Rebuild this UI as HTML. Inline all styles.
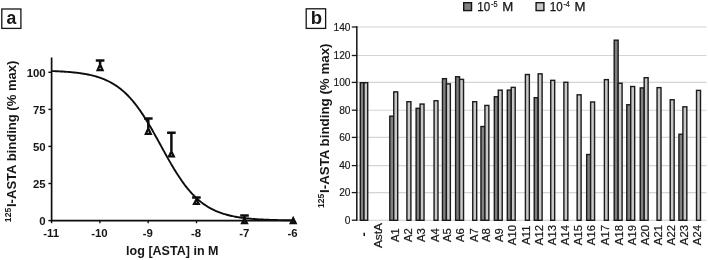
<!DOCTYPE html>
<html><head><meta charset="utf-8"><title>Figure</title>
<style>html,body{margin:0;padding:0;background:#fff}svg{display:block}text{font-family:"Liberation Sans",sans-serif;fill:#151515}</style></head>
<body>
<svg width="708" height="260" viewBox="0 0 708 260">
<defs><filter id="soft" x="0" y="0" width="708" height="260" filterUnits="userSpaceOnUse"><feGaussianBlur stdDeviation="0.4"/></filter></defs>
<rect x="0" y="0" width="708" height="260" fill="#fff"/>
<g filter="url(#soft)">
<rect x="1.8" y="9.0" width="19.1" height="19.4" fill="#fff" stroke="#151515" stroke-width="1.3"/>
<text x="11.3" y="24.0" font-size="17.6" font-weight="bold" text-anchor="middle">a</text>
<rect x="306.2" y="8.8" width="19.4" height="19.6" fill="#fff" stroke="#151515" stroke-width="1.3"/>
<text x="316.4" y="24.3" font-size="18.5" font-weight="bold" text-anchor="middle">b</text>
<path d="M51.6 57.5V220.6H293.6" fill="none" stroke="#0c0c0c" stroke-width="1.65"/>
<path d="M48.4 220.6H51.6" stroke="#0c0c0c" stroke-width="1.4"/>
<text x="45.7" y="225.0" font-size="11.4" font-weight="bold" text-anchor="end">0</text>
<path d="M48.4 183.5H51.6" stroke="#0c0c0c" stroke-width="1.4"/>
<text x="45.7" y="187.9" font-size="11.4" font-weight="bold" text-anchor="end">25</text>
<path d="M48.4 146.4H51.6" stroke="#0c0c0c" stroke-width="1.4"/>
<text x="45.7" y="150.8" font-size="11.4" font-weight="bold" text-anchor="end">50</text>
<path d="M48.4 109.4H51.6" stroke="#0c0c0c" stroke-width="1.4"/>
<text x="45.7" y="113.8" font-size="11.4" font-weight="bold" text-anchor="end">75</text>
<path d="M48.4 72.3H51.6" stroke="#0c0c0c" stroke-width="1.4"/>
<text x="45.7" y="76.7" font-size="11.4" font-weight="bold" text-anchor="end">100</text>
<path d="M51.6 220.6V223.2" stroke="#0c0c0c" stroke-width="1.4"/>
<text x="51.1" y="237.3" font-size="11.4" font-weight="bold" text-anchor="middle">-11</text>
<path d="M99.9 220.6V223.2" stroke="#0c0c0c" stroke-width="1.4"/>
<text x="99.4" y="237.3" font-size="11.4" font-weight="bold" text-anchor="middle">-10</text>
<path d="M148.2 220.6V223.2" stroke="#0c0c0c" stroke-width="1.4"/>
<text x="147.7" y="237.3" font-size="11.4" font-weight="bold" text-anchor="middle">-9</text>
<path d="M196.5 220.6V223.2" stroke="#0c0c0c" stroke-width="1.4"/>
<text x="196.0" y="237.3" font-size="11.4" font-weight="bold" text-anchor="middle">-8</text>
<path d="M244.8 220.6V223.2" stroke="#0c0c0c" stroke-width="1.4"/>
<text x="244.3" y="237.3" font-size="11.4" font-weight="bold" text-anchor="middle">-7</text>
<path d="M293.1 220.6V223.2" stroke="#0c0c0c" stroke-width="1.4"/>
<text x="292.6" y="237.3" font-size="11.4" font-weight="bold" text-anchor="middle">-6</text>
<text x="126.1" y="255.4" font-size="12.5" font-weight="bold" textLength="92.4" lengthAdjust="spacingAndGlyphs">log [ASTA] in M</text>
<text transform="translate(11.2 222.2) rotate(-90)" font-size="9.2" font-weight="bold" textLength="14.6" lengthAdjust="spacingAndGlyphs">125</text>
<text transform="translate(16.4 207.0) rotate(-90)" font-size="13.6" font-weight="bold" textLength="146.4" lengthAdjust="spacingAndGlyphs">I-ASTA binding (% max)</text>
<path d="M51.60 71.04L52.61 71.08L53.61 71.11L54.62 71.16L55.63 71.20L56.63 71.24L57.64 71.29L58.64 71.34L59.65 71.39L60.66 71.45L61.66 71.50L62.67 71.56L63.67 71.63L64.68 71.69L65.69 71.76L66.69 71.83L67.70 71.91L68.71 71.99L69.71 72.07L70.72 72.16L71.72 72.25L72.73 72.35L73.74 72.45L74.74 72.56L75.75 72.67L76.76 72.79L77.76 72.91L78.77 73.04L79.78 73.17L80.78 73.31L81.79 73.46L82.79 73.62L83.80 73.78L84.81 73.95L85.81 74.13L86.82 74.31L87.82 74.51L88.83 74.71L89.84 74.93L90.84 75.15L91.85 75.39L92.86 75.64L93.86 75.89L94.87 76.16L95.87 76.44L96.88 76.74L97.89 77.05L98.89 77.37L99.90 77.71L100.91 78.06L101.91 78.43L102.92 78.81L103.93 79.21L104.93 79.63L105.94 80.07L106.94 80.53L107.95 81.01L108.96 81.50L109.96 82.02L110.97 82.56L111.97 83.12L112.98 83.71L113.99 84.32L114.99 84.95L116.00 85.61L117.01 86.30L118.01 87.01L119.02 87.75L120.02 88.52L121.03 89.32L122.04 90.15L123.04 91.01L124.05 91.90L125.06 92.82L126.06 93.77L127.07 94.75L128.08 95.77L129.08 96.82L130.09 97.91L131.09 99.03L132.10 100.18L133.11 101.37L134.11 102.60L135.12 103.86L136.12 105.15L137.13 106.47L138.14 107.84L139.14 109.23L140.15 110.66L141.16 112.12L142.16 113.61L143.17 115.14L144.17 116.69L145.18 118.27L146.19 119.89L147.19 121.53L148.20 123.19L149.21 124.88L150.21 126.59L151.22 128.33L152.23 130.08L153.23 131.85L154.24 133.63L155.24 135.43L156.25 137.25L157.26 139.07L158.26 140.89L159.27 142.73L160.28 144.57L161.28 146.40L162.29 148.24L163.29 150.08L164.30 151.90L165.31 153.73L166.31 155.54L167.32 157.34L168.32 159.12L169.33 160.89L170.34 162.64L171.34 164.37L172.35 166.09L173.36 167.77L174.36 169.44L175.37 171.08L176.38 172.69L177.38 174.27L178.39 175.82L179.39 177.35L180.40 178.84L181.41 180.30L182.41 181.72L183.42 183.12L184.42 184.48L185.43 185.80L186.44 187.09L187.44 188.35L188.45 189.57L189.46 190.76L190.46 191.91L191.47 193.03L192.47 194.12L193.48 195.17L194.49 196.18L195.49 197.17L196.50 198.12L197.51 199.04L198.51 199.93L199.52 200.78L200.53 201.61L201.53 202.41L202.54 203.18L203.54 203.92L204.55 204.63L205.56 205.31L206.56 205.97L207.57 206.61L208.57 207.21L209.58 207.80L210.59 208.36L211.59 208.90L212.60 209.42L213.61 209.91L214.61 210.39L215.62 210.84L216.62 211.28L217.63 211.70L218.64 212.10L219.64 212.48L220.65 212.85L221.66 213.20L222.66 213.54L223.67 213.86L224.68 214.17L225.68 214.46L226.69 214.75L227.69 215.02L228.70 215.27L229.71 215.52L230.71 215.75L231.72 215.98L232.72 216.19L233.73 216.40L234.74 216.59L235.74 216.78L236.75 216.96L237.76 217.13L238.76 217.29L239.77 217.44L240.77 217.59L241.78 217.73L242.79 217.87L243.79 217.99L244.80 218.12L245.81 218.23L246.81 218.35L247.82 218.45L248.82 218.55L249.83 218.65L250.84 218.74L251.84 218.83L252.85 218.91L253.86 218.99L254.86 219.07L255.87 219.14L256.88 219.21L257.88 219.28L258.89 219.34L259.89 219.40L260.90 219.45L261.91 219.51L262.91 219.56L263.92 219.61L264.93 219.66L265.93 219.70L266.94 219.74L267.94 219.79L268.95 219.82L269.96 219.86L270.96 219.90L271.97 219.93L272.97 219.96L273.98 219.99L274.99 220.02L275.99 220.05L277.00 220.07L278.01 220.10L279.01 220.12L280.02 220.15L281.02 220.17L282.03 220.19L283.04 220.21L284.04 220.23L285.05 220.24L286.06 220.26L287.06 220.28L288.07 220.29L289.07 220.31L290.08 220.32L291.09 220.33L292.09 220.35L293.10 220.36" fill="none" stroke="#0c0c0c" stroke-width="1.9"/>
<path d="M95.8 60.4H104.4M100.1 60.4V63.9" fill="none" stroke="#0c0c0c" stroke-width="2.5"/>
<path d="M100.10 64.46L102.62 70.22H97.58Z" fill="none" stroke="#0c0c0c" stroke-width="2.2"/>
<path d="M144.0 118.6H152.6M148.3 118.6V128.0" fill="none" stroke="#0c0c0c" stroke-width="2.5"/>
<path d="M148.30 128.50L150.79 133.95H145.81Z" fill="none" stroke="#0c0c0c" stroke-width="2.2"/>
<path d="M167.1 132.7H175.7M171.4 132.7V151.0" fill="none" stroke="#0c0c0c" stroke-width="2.5"/>
<path d="M171.40 151.40L173.84 156.40H168.96Z" fill="none" stroke="#0c0c0c" stroke-width="2.2"/>
<path d="M192.1 197.5H200.7M196.4 197.5V199.0" fill="none" stroke="#0c0c0c" stroke-width="2.5"/>
<path d="M196.40 199.33L198.79 203.94H194.01Z" fill="none" stroke="#0c0c0c" stroke-width="2.2"/>
<path d="M240.2 215.6H248.8M244.5 215.6V217.9" fill="none" stroke="#0c0c0c" stroke-width="2.5"/>
<path d="M244.50 218.27L246.92 223.11H242.08Z" fill="none" stroke="#0c0c0c" stroke-width="2.2"/>
<path d="M293.20 218.27L295.62 223.11H290.78Z" fill="none" stroke="#0c0c0c" stroke-width="2.2"/>
<path d="M357.2 192.6H706.4" stroke="#d4d4d4" stroke-width="1.1"/>
<path d="M357.2 165.6H706.4" stroke="#d4d4d4" stroke-width="1.1"/>
<path d="M357.2 137.4H706.4" stroke="#d4d4d4" stroke-width="1.1"/>
<path d="M357.2 110.2H706.4" stroke="#d4d4d4" stroke-width="1.1"/>
<path d="M357.2 82.4H706.4" stroke="#d4d4d4" stroke-width="1.1"/>
<path d="M357.2 55.5H706.4" stroke="#d4d4d4" stroke-width="1.1"/>
<path d="M357.2 27.0H706.4" stroke="#d4d4d4" stroke-width="1.1"/>
<path d="M357.2 220.2H706.4" stroke="#cccccc" stroke-width="1.1"/>
<rect x="360.30" y="82.67" width="3.7" height="137.63" fill="#808080" stroke="#1a1a1a" stroke-width="1.4"/>
<rect x="364.00" y="82.67" width="3.7" height="137.63" fill="#c8c8c8" stroke="#1a1a1a" stroke-width="1.4"/>
<text transform="translate(367.7 234.3) rotate(-90)" font-size="13" font-weight="bold" text-anchor="middle">-</text>
<text transform="translate(382.30 235.6) rotate(-90)" font-size="11.3" text-anchor="middle" stroke="#151515" stroke-width="0.2" textLength="25" lengthAdjust="spacingAndGlyphs">AstA</text>
<rect x="389.80" y="116.19" width="3.95" height="104.11" fill="#808080" stroke="#1a1a1a" stroke-width="1.4"/>
<rect x="393.75" y="91.91" width="3.95" height="128.39" fill="#c8c8c8" stroke="#1a1a1a" stroke-width="1.4"/>
<text transform="translate(398.55 235.1) rotate(-90)" font-size="11.3" text-anchor="middle" stroke="#151515" stroke-width="0.2">A1</text>
<rect x="406.92" y="101.70" width="3.95" height="118.60" fill="#c8c8c8" stroke="#1a1a1a" stroke-width="1.4"/>
<text transform="translate(411.71 235.1) rotate(-90)" font-size="11.3" text-anchor="middle" stroke="#151515" stroke-width="0.2">A2</text>
<rect x="416.13" y="108.32" width="3.95" height="111.98" fill="#808080" stroke="#1a1a1a" stroke-width="1.4"/>
<rect x="420.08" y="104.05" width="3.95" height="116.25" fill="#c8c8c8" stroke="#1a1a1a" stroke-width="1.4"/>
<text transform="translate(424.88 235.1) rotate(-90)" font-size="11.3" text-anchor="middle" stroke="#151515" stroke-width="0.2">A3</text>
<rect x="434.05" y="100.74" width="3.95" height="119.56" fill="#c8c8c8" stroke="#1a1a1a" stroke-width="1.4"/>
<text transform="translate(438.84 235.1) rotate(-90)" font-size="11.3" text-anchor="middle" stroke="#151515" stroke-width="0.2">A4</text>
<rect x="442.46" y="78.67" width="3.95" height="141.63" fill="#808080" stroke="#1a1a1a" stroke-width="1.4"/>
<rect x="446.41" y="83.91" width="3.95" height="136.39" fill="#c8c8c8" stroke="#1a1a1a" stroke-width="1.4"/>
<text transform="translate(451.21 235.1) rotate(-90)" font-size="11.3" text-anchor="middle" stroke="#151515" stroke-width="0.2">A5</text>
<rect x="455.62" y="76.74" width="3.95" height="143.56" fill="#808080" stroke="#1a1a1a" stroke-width="1.4"/>
<rect x="459.57" y="79.36" width="3.95" height="140.94" fill="#c8c8c8" stroke="#1a1a1a" stroke-width="1.4"/>
<text transform="translate(464.37 235.1) rotate(-90)" font-size="11.3" text-anchor="middle" stroke="#151515" stroke-width="0.2">A6</text>
<rect x="472.74" y="101.70" width="3.95" height="118.60" fill="#c8c8c8" stroke="#1a1a1a" stroke-width="1.4"/>
<text transform="translate(477.54 235.1) rotate(-90)" font-size="11.3" text-anchor="middle" stroke="#151515" stroke-width="0.2">A7</text>
<rect x="480.95" y="126.53" width="3.95" height="93.77" fill="#808080" stroke="#1a1a1a" stroke-width="1.4"/>
<rect x="484.90" y="105.43" width="3.95" height="114.87" fill="#c8c8c8" stroke="#1a1a1a" stroke-width="1.4"/>
<text transform="translate(489.70 235.1) rotate(-90)" font-size="11.3" text-anchor="middle" stroke="#151515" stroke-width="0.2">A8</text>
<rect x="494.32" y="96.74" width="3.95" height="123.56" fill="#808080" stroke="#1a1a1a" stroke-width="1.4"/>
<rect x="498.27" y="90.12" width="3.95" height="130.18" fill="#c8c8c8" stroke="#1a1a1a" stroke-width="1.4"/>
<text transform="translate(503.07 235.1) rotate(-90)" font-size="11.3" text-anchor="middle" stroke="#151515" stroke-width="0.2">A9</text>
<rect x="507.29" y="90.12" width="3.95" height="130.18" fill="#808080" stroke="#1a1a1a" stroke-width="1.4"/>
<rect x="511.24" y="87.36" width="3.95" height="132.94" fill="#c8c8c8" stroke="#1a1a1a" stroke-width="1.4"/>
<text transform="translate(516.03 235.1) rotate(-90)" font-size="11.3" text-anchor="middle" stroke="#151515" stroke-width="0.2">A10</text>
<rect x="525.40" y="74.53" width="3.95" height="145.77" fill="#c8c8c8" stroke="#1a1a1a" stroke-width="1.4"/>
<text transform="translate(530.20 235.1) rotate(-90)" font-size="11.3" text-anchor="middle" stroke="#151515" stroke-width="0.2">A11</text>
<rect x="534.22" y="97.70" width="3.95" height="122.60" fill="#808080" stroke="#1a1a1a" stroke-width="1.4"/>
<rect x="538.17" y="73.84" width="3.95" height="146.46" fill="#c8c8c8" stroke="#1a1a1a" stroke-width="1.4"/>
<text transform="translate(542.97 235.1) rotate(-90)" font-size="11.3" text-anchor="middle" stroke="#151515" stroke-width="0.2">A12</text>
<rect x="550.73" y="80.33" width="3.95" height="139.97" fill="#c8c8c8" stroke="#1a1a1a" stroke-width="1.4"/>
<text transform="translate(555.53 235.1) rotate(-90)" font-size="11.3" text-anchor="middle" stroke="#151515" stroke-width="0.2">A13</text>
<rect x="563.89" y="82.26" width="3.95" height="138.04" fill="#c8c8c8" stroke="#1a1a1a" stroke-width="1.4"/>
<text transform="translate(568.69 235.1) rotate(-90)" font-size="11.3" text-anchor="middle" stroke="#151515" stroke-width="0.2">A14</text>
<rect x="577.16" y="94.81" width="3.95" height="125.49" fill="#c8c8c8" stroke="#1a1a1a" stroke-width="1.4"/>
<text transform="translate(581.96 235.1) rotate(-90)" font-size="11.3" text-anchor="middle" stroke="#151515" stroke-width="0.2">A15</text>
<rect x="586.67" y="154.53" width="3.95" height="65.77" fill="#808080" stroke="#1a1a1a" stroke-width="1.4"/>
<rect x="590.62" y="101.98" width="3.95" height="118.32" fill="#c8c8c8" stroke="#1a1a1a" stroke-width="1.4"/>
<text transform="translate(595.42 235.1) rotate(-90)" font-size="11.3" text-anchor="middle" stroke="#151515" stroke-width="0.2">A16</text>
<rect x="604.39" y="79.64" width="3.95" height="140.66" fill="#c8c8c8" stroke="#1a1a1a" stroke-width="1.4"/>
<text transform="translate(609.19 235.1) rotate(-90)" font-size="11.3" text-anchor="middle" stroke="#151515" stroke-width="0.2">A17</text>
<rect x="614.20" y="40.19" width="3.95" height="180.11" fill="#808080" stroke="#1a1a1a" stroke-width="1.4"/>
<rect x="618.15" y="83.22" width="3.95" height="137.08" fill="#c8c8c8" stroke="#1a1a1a" stroke-width="1.4"/>
<text transform="translate(622.95 235.1) rotate(-90)" font-size="11.3" text-anchor="middle" stroke="#151515" stroke-width="0.2">A18</text>
<rect x="626.77" y="104.74" width="3.95" height="115.56" fill="#808080" stroke="#1a1a1a" stroke-width="1.4"/>
<rect x="630.72" y="86.53" width="3.95" height="133.77" fill="#c8c8c8" stroke="#1a1a1a" stroke-width="1.4"/>
<text transform="translate(635.52 235.1) rotate(-90)" font-size="11.3" text-anchor="middle" stroke="#151515" stroke-width="0.2">A19</text>
<rect x="640.23" y="87.91" width="3.95" height="132.39" fill="#808080" stroke="#1a1a1a" stroke-width="1.4"/>
<rect x="644.18" y="77.70" width="3.95" height="142.60" fill="#c8c8c8" stroke="#1a1a1a" stroke-width="1.4"/>
<text transform="translate(648.98 235.1) rotate(-90)" font-size="11.3" text-anchor="middle" stroke="#151515" stroke-width="0.2">A20</text>
<rect x="657.05" y="87.64" width="3.95" height="132.66" fill="#c8c8c8" stroke="#1a1a1a" stroke-width="1.4"/>
<text transform="translate(661.85 235.1) rotate(-90)" font-size="11.3" text-anchor="middle" stroke="#151515" stroke-width="0.2">A21</text>
<rect x="670.21" y="99.77" width="3.95" height="120.53" fill="#c8c8c8" stroke="#1a1a1a" stroke-width="1.4"/>
<text transform="translate(675.01 235.1) rotate(-90)" font-size="11.3" text-anchor="middle" stroke="#151515" stroke-width="0.2">A22</text>
<rect x="678.93" y="134.26" width="3.95" height="86.04" fill="#808080" stroke="#1a1a1a" stroke-width="1.4"/>
<rect x="682.88" y="106.81" width="3.95" height="113.49" fill="#c8c8c8" stroke="#1a1a1a" stroke-width="1.4"/>
<text transform="translate(687.68 235.1) rotate(-90)" font-size="11.3" text-anchor="middle" stroke="#151515" stroke-width="0.2">A23</text>
<rect x="696.54" y="90.39" width="3.95" height="129.91" fill="#c8c8c8" stroke="#1a1a1a" stroke-width="1.4"/>
<text transform="translate(701.34 235.1) rotate(-90)" font-size="11.3" text-anchor="middle" stroke="#151515" stroke-width="0.2">A24</text>
<path d="M356.8 26.3V220.79999999999998" stroke="#222" stroke-width="1.6" fill="none"/>
<path d="M351.8 220.2H357.2" stroke="#1a1a1a" stroke-width="1.3"/>
<text x="350.5" y="223.8" font-size="10.2" stroke="#151515" stroke-width="0.15" text-anchor="end">0</text>
<path d="M351.8 192.6H357.2" stroke="#1a1a1a" stroke-width="1.3"/>
<text x="350.5" y="196.2" font-size="10.2" stroke="#151515" stroke-width="0.15" text-anchor="end">20</text>
<path d="M351.8 165.6H357.2" stroke="#1a1a1a" stroke-width="1.3"/>
<text x="350.5" y="169.2" font-size="10.2" stroke="#151515" stroke-width="0.15" text-anchor="end">40</text>
<path d="M351.8 137.4H357.2" stroke="#1a1a1a" stroke-width="1.3"/>
<text x="350.5" y="141.0" font-size="10.2" stroke="#151515" stroke-width="0.15" text-anchor="end">60</text>
<path d="M351.8 110.2H357.2" stroke="#1a1a1a" stroke-width="1.3"/>
<text x="350.5" y="113.8" font-size="10.2" stroke="#151515" stroke-width="0.15" text-anchor="end">80</text>
<path d="M351.8 82.4H357.2" stroke="#1a1a1a" stroke-width="1.3"/>
<text x="350.5" y="86.0" font-size="10.2" stroke="#151515" stroke-width="0.15" text-anchor="end">100</text>
<path d="M351.8 55.5H357.2" stroke="#1a1a1a" stroke-width="1.3"/>
<text x="350.5" y="59.1" font-size="10.2" stroke="#151515" stroke-width="0.15" text-anchor="end">120</text>
<path d="M351.8 27.0H357.2" stroke="#1a1a1a" stroke-width="1.3"/>
<text x="350.5" y="30.6" font-size="10.2" stroke="#151515" stroke-width="0.15" text-anchor="end">140</text>
<text transform="translate(323.9 207.9) rotate(-90)" font-size="9.2" font-weight="bold" textLength="14.3" lengthAdjust="spacingAndGlyphs">125</text>
<text transform="translate(329.1 193.0) rotate(-90)" font-size="13.6" font-weight="bold" textLength="149.5" lengthAdjust="spacingAndGlyphs">I-ASTA binding (% max)</text>
<rect x="463.7" y="2.7" width="7.8" height="7.9" fill="#808080" stroke="#151515" stroke-width="1.4"/>
<text x="477.3" y="11.0" font-size="12.2" stroke="#151515" stroke-width="0.25" textLength="12.9" lengthAdjust="spacingAndGlyphs">10</text>
<text x="491.0" y="6.9" font-size="9.8" stroke="#151515" stroke-width="0.2" textLength="6.5" lengthAdjust="spacingAndGlyphs">-5</text>
<text x="502.2" y="11.0" font-size="12.2" stroke="#151515" stroke-width="0.25" textLength="11" lengthAdjust="spacingAndGlyphs">M</text>
<rect x="536.1" y="2.7" width="7.8" height="7.9" fill="#c8c8c8" stroke="#151515" stroke-width="1.4"/>
<text x="549.7" y="11.0" font-size="12.2" stroke="#151515" stroke-width="0.25" textLength="12.9" lengthAdjust="spacingAndGlyphs">10</text>
<text x="563.4" y="6.9" font-size="9.8" stroke="#151515" stroke-width="0.2" textLength="6.5" lengthAdjust="spacingAndGlyphs">-4</text>
<text x="574.6" y="11.0" font-size="12.2" stroke="#151515" stroke-width="0.25" textLength="11" lengthAdjust="spacingAndGlyphs">M</text>
</g>
</svg>
</body></html>
